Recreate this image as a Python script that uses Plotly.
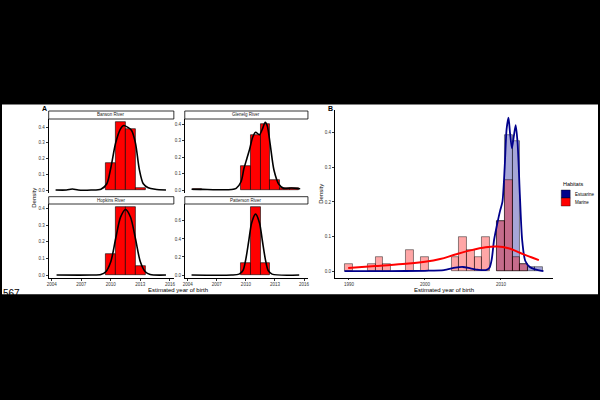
import plotly.graph_objects as go

# ---------------- Data ----------------
rivers = ["Barwon River", "Glenelg River", "Hopkins River", "Patterson River"]

barwon_years = [2010, 2011, 2012, 2013]
barwon_dens = [0.17, 0.43, 0.39, 0.015]
barwon_curve_x = [2004.4, 2005.5, 2006.1, 2006.7, 2008.0, 2009.0, 2009.6, 2010.0, 2010.5, 2011.0, 2011.3,
                  2011.7, 2012.1, 2012.5, 2012.9, 2013.3, 2013.8, 2014.5, 2015.6]
barwon_curve_y = [0.0, 0.0, 0.006, 0.0, 0.0, 0.005, 0.04, 0.14, 0.30, 0.39, 0.41,
                  0.40, 0.38, 0.30, 0.13, 0.04, 0.015, 0.005, 0.0]

glenelg_years = [2005, 2010, 2011, 2012, 2013, 2014, 2015]
glenelg_dens = [0.007, 0.148, 0.336, 0.40, 0.062, 0.01, 0.015]
glenelg_curve_x = [2004.4, 2005.5, 2007.0, 2008.5, 2009.0, 2009.5, 2009.8, 2010.1, 2010.4, 2010.7, 2011.0,
                   2011.4, 2011.7, 2012.0, 2012.2, 2012.5, 2012.9, 2013.4, 2013.9, 2014.7, 2015.6]
glenelg_curve_y = [0.005, 0.004, 0.002, 0.003, 0.01, 0.05, 0.13, 0.19, 0.25, 0.32, 0.35,
                   0.335, 0.37, 0.41, 0.39, 0.28, 0.12, 0.035, 0.01, 0.012, 0.008]

hopkins_years = [2010, 2011, 2012, 2013]
hopkins_dens = [0.127, 0.408, 0.408, 0.055]
hopkins_curve_x = [2004.5, 2008.0, 2009.0, 2009.5, 2010.0, 2010.5, 2011.0, 2011.5, 2012.0, 2012.5,
                   2013.0, 2013.5, 2014.0, 2015.6]
hopkins_curve_y = [0.0, 0.0, 0.003, 0.02, 0.08, 0.22, 0.35, 0.395, 0.35, 0.22,
                   0.08, 0.02, 0.003, 0.0]

patterson_years = [2010, 2011, 2012]
patterson_dens = [0.13, 0.75, 0.13]
patterson_curve_x = [2004.4, 2008.5, 2009.3, 2009.7, 2010.0, 2010.3, 2010.6, 2011.0, 2011.4, 2011.7,
                     2012.0, 2012.3, 2012.7, 2015.5]
patterson_curve_y = [0.0, 0.0, 0.01, 0.05, 0.18, 0.38, 0.58, 0.675, 0.58, 0.38,
                     0.18, 0.05, 0.01, 0.0]

habitats = ["Estuarine", "Marine"]
estuarine_years = [2010, 2011, 2012, 2013, 2014, 2015]
estuarine_dens = [0.145, 0.395, 0.377, 0.022, 0.012, 0.012]
marine_years = [1990, 1993, 1994, 1995, 1998, 2000, 2004, 2005, 2006, 2007, 2008, 2010, 2011, 2012, 2013]
marine_dens = [0.02, 0.02, 0.041, 0.02, 0.061, 0.041, 0.041, 0.099, 0.061, 0.041, 0.099, 0.145, 0.263, 0.041, 0.02]

estuarine_curve_x = [1989.4, 1995.0, 2000.0, 2002.5, 2004.0, 2005.0, 2006.0, 2007.0, 2008.0, 2008.5, 2008.8,
                     2009.1, 2009.5, 2009.9, 2010.2, 2010.5, 2010.75, 2011.0, 2011.2, 2011.45, 2011.7,
                     2011.95, 2012.2, 2012.5, 2012.8, 2013.2, 2013.8, 2014.5, 2015.6]
estuarine_curve_y = [0.0, 0.0, 0.001, 0.003, 0.01, 0.012, 0.008, 0.004, 0.003, 0.01, 0.035,
                     0.09, 0.135, 0.175, 0.2, 0.3, 0.41, 0.444, 0.40, 0.355, 0.39,
                     0.422, 0.37, 0.22, 0.09, 0.03, 0.012, 0.005, 0.0]
marine_curve_x = [1989.9, 1993.5, 1997.5, 2000.0, 2002.0, 2004.0, 2006.0, 2008.0, 2009.5, 2011.0,
                  2012.5, 2014.0, 2015.0]
marine_curve_y = [0.009, 0.015, 0.021, 0.027, 0.035, 0.048, 0.06, 0.069, 0.071, 0.066,
                  0.053, 0.04, 0.032]

a_xticks = [2004, 2007, 2010, 2013, 2016]
b_xticks = [1990, 2000, 2010]

# ---------------- Helpers ----------------
W, H = 600, 400
def fx(px):
    return px / W
def fy(py):
    return 1 - py / H

FONT = "Liberation Sans, Arial, sans-serif"
TICKC = "#333333"

fig = go.Figure()

panels = [
    (barwon_years, barwon_dens, barwon_curve_x, barwon_curve_y, "x", "y"),
    (glenelg_years, glenelg_dens, glenelg_curve_x, glenelg_curve_y, "x2", "y2"),
    (hopkins_years, hopkins_dens, hopkins_curve_x, hopkins_curve_y, "x3", "y3"),
    (patterson_years, patterson_dens, patterson_curve_x, patterson_curve_y, "x4", "y4"),
]
for yrs, dens, cx, cy, xa, ya in panels:
    fig.add_trace(go.Bar(x=yrs, y=dens, width=1, xaxis=xa, yaxis=ya,
                         marker=dict(color="#FF0000", line=dict(color="black", width=0.6)),
                         showlegend=False, hoverinfo="skip"))
    fig.add_trace(go.Scatter(x=cx, y=cy, mode="lines", xaxis=xa, yaxis=ya,
                             line=dict(color="black", width=1.6, shape="spline", smoothing=0.8),
                             showlegend=False, hoverinfo="skip"))

# Panel B
fig.add_trace(go.Bar(x=estuarine_years, y=estuarine_dens, width=1, xaxis="x5", yaxis="y5",
                     marker=dict(color="rgba(0,0,139,0.35)", line=dict(color="rgba(0,0,0,0.75)", width=0.6)),
                     showlegend=False, hoverinfo="skip"))
fig.add_trace(go.Bar(x=marine_years, y=marine_dens, width=1, xaxis="x5", yaxis="y5",
                     marker=dict(color="rgba(255,0,0,0.35)", line=dict(color="rgba(0,0,0,0.75)", width=0.6)),
                     showlegend=False, hoverinfo="skip"))
fig.add_trace(go.Scatter(x=estuarine_curve_x, y=estuarine_curve_y, mode="lines", xaxis="x5", yaxis="y5",
                         line=dict(color="#00008B", width=1.8, shape="spline", smoothing=0.7),
                         showlegend=False, hoverinfo="skip"))
fig.add_trace(go.Scatter(x=marine_curve_x, y=marine_curve_y, mode="lines", xaxis="x5", yaxis="y5",
                         line=dict(color="#FF0000", width=2.0, shape="spline", smoothing=1.0),
                         showlegend=False, hoverinfo="skip"))

# ---------------- Axes ----------------
def yax(dom_top, dom_bot, rng, vals, anchor):
    return dict(domain=[fy(dom_bot), fy(dom_top)], anchor=anchor, range=rng,
                tickvals=vals, ticktext=["%.1f" % v for v in vals],
                ticks="outside", ticklen=2, tickwidth=0.6, tickcolor=TICKC,
                showline=True, linecolor="black", linewidth=0.8,
                tickfont=dict(size=4.5, color=TICKC, family=FONT),
                showgrid=False, zeroline=False)

def xax(left, right, rng, anchor, labels, vals):
    d = dict(domain=[fx(left), fx(right)], anchor=anchor, range=rng,
             showgrid=False, zeroline=False)
    if labels:
        d.update(tickvals=vals, ticktext=[str(v) for v in vals], ticks="outside", ticklen=1.5,
                 tickwidth=0.6, tickcolor=TICKC, showline=True, linecolor="black", linewidth=0.8,
                 tickfont=dict(size=4.5, color=TICKC, family=FONT))
    else:
        d.update(showticklabels=False, ticks="", showline=False)
    return d

A_XR = [2003.7, 2016.4]
layout_axes = dict(
    xaxis=xax(47, 173, A_XR, "y", False, a_xticks),
    yaxis=yax(119, 193.4, [-0.0215, 0.4515], [0, 0.1, 0.2, 0.3, 0.4], "x"),
    xaxis2=xax(184, 308, A_XR, "y2", False, a_xticks),
    yaxis2=yax(119, 193.4, [-0.0205, 0.4305], [0, 0.1, 0.2, 0.3, 0.4], "x2"),
    xaxis3=xax(47, 173, A_XR, "y3", True, a_xticks),
    yaxis3=yax(204, 278.4, [-0.0204, 0.428], [0, 0.1, 0.2, 0.3, 0.4], "x3"),
    xaxis4=xax(184, 308, A_XR, "y4", True, a_xticks),
    yaxis4=yax(204, 278.4, [-0.0375, 0.7875], [0, 0.2, 0.4, 0.6], "x4"),
    xaxis5=xax(335, 555, [1988.13, 2016.9], "y5", True, b_xticks),
    yaxis5=yax(110, 277.7, [-0.019, 0.466], [0, 0.1, 0.2, 0.3, 0.4], "x5"),
)

# ---------------- Shapes ----------------
shapes = [dict(type="rect", xref="paper", yref="paper", x0=0, x1=1, y0=fy(294.3), y1=fy(104.5),
               fillcolor="white", line=dict(width=0), layer="below")]
strips = [(47, 173, 111, 119, rivers[0]), (184, 308, 111, 119, rivers[1]),
          (47, 173, 196.7, 204, rivers[2]), (184, 308, 196.7, 204, rivers[3])]
annotations = []
for l, r, t, b, name in strips:
    shapes.append(dict(type="rect", xref="paper", yref="paper", x0=fx(l), x1=fx(r), y0=fy(b), y1=fy(t),
                       fillcolor="white", line=dict(color="black", width=0.8), layer="above"))
    annotations.append(dict(x=fx((l + r) / 2), y=fy((t + b) / 2), xref="paper", yref="paper",
                            text=name, showarrow=False, font=dict(size=4.5, color="#1a1a1a", family=FONT),
                            xanchor="center", yanchor="middle"))

# legend keys
leg_items = [("Estuarine", "#00008B", 190, 198), ("Marine", "#FF0000", 198, 206)]
for name, col, t, b in leg_items:
    shapes.append(dict(type="rect", xref="paper", yref="paper", x0=fx(563), x1=fx(572), y0=fy(b), y1=fy(t),
                       fillcolor=col, line=dict(color="black", width=0.4), layer="above"))
    annotations.append(dict(x=fx(575), y=fy((t + b) / 2), xref="paper", yref="paper", text=name,
                            showarrow=False, xanchor="left", yanchor="middle",
                            font=dict(size=4.5, color="black", family=FONT)))
annotations.append(dict(x=fx(563), y=fy(184), xref="paper", yref="paper", text="Habitats",
                        showarrow=False, xanchor="left", yanchor="middle",
                        font=dict(size=5.5, color="black", family=FONT)))

# titles / labels
annotations += [
    dict(x=fx(38), y=fy(108), xref="paper", yref="paper", text="<b>A</b>", showarrow=False,
         xanchor="left", yanchor="middle", font=dict(size=7, color="black", family=FONT)),
    dict(x=fx(326), y=fy(109), xref="paper", yref="paper", text="<b>B</b>", showarrow=False,
         xanchor="left", yanchor="middle", font=dict(size=7, color="black", family=FONT)),
    dict(x=fx(177.5), y=fy(290.3), xref="paper", yref="paper", text="Estimated year of birth",
         showarrow=False, xanchor="center", yanchor="middle", font=dict(size=6, color="black", family=FONT)),
    dict(x=fx(445), y=fy(290), xref="paper", yref="paper", text="Estimated year of birth",
         showarrow=False, xanchor="center", yanchor="middle", font=dict(size=6, color="black", family=FONT)),
    dict(x=fx(32), y=fy(198), xref="paper", yref="paper", text="Density", textangle=-90,
         showarrow=False, xanchor="center", yanchor="middle", font=dict(size=6, color="black", family=FONT)),
    dict(x=fx(321), y=fy(194), xref="paper", yref="paper", text="Density", textangle=-90,
         showarrow=False, xanchor="center", yanchor="middle", font=dict(size=6, color="black", family=FONT)),
    dict(x=fx(-1), y=fy(293), xref="paper", yref="paper", text="567", showarrow=False,
         xanchor="left", yanchor="middle", font=dict(size=10, color="black", family=FONT)),
]

fig.update_layout(
    width=W, height=H, margin=dict(l=0, r=0, t=0, b=0),
    paper_bgcolor="black", plot_bgcolor="white",
    barmode="overlay", bargap=0, showlegend=False,
    shapes=shapes, annotations=annotations,
    font=dict(family=FONT),
    **layout_axes,
)

fig.write_html("out.html")
